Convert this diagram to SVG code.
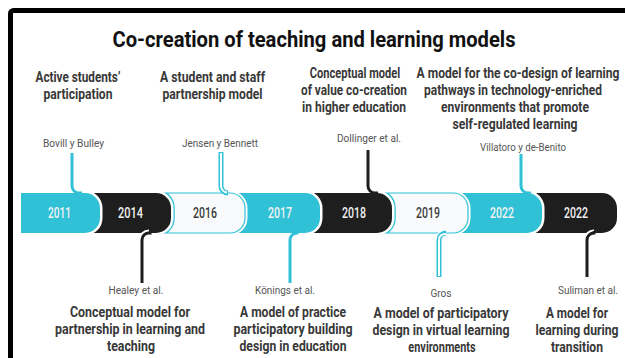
<svg xmlns="http://www.w3.org/2000/svg" width="625" height="358" viewBox="0 0 625 358">
<style>
.t{font-family:"Roboto","Liberation Sans",sans-serif;font-weight:700;fill:#383838;text-anchor:middle;font-size:15px}
.ttl{font-size:22px;fill:#111}
.au{font-family:"Roboto","Liberation Sans",sans-serif;font-size:10px;fill:#555;text-anchor:middle}
.yr{font-family:"Roboto","Liberation Sans",sans-serif;font-size:14px;font-weight:500;text-anchor:middle}
.yw{fill:#f2f2f2}
.yd{fill:#3a3a3a}
.cy{fill:#31c1d6}
.bk{fill:#1e1e1e}
.lt{fill:#f8fafc}
.gap{stroke:#fff;stroke-width:5;paint-order:stroke}
.c{fill:none;stroke-linecap:butt}
</style>
<defs>
<path id="s2016" d="M151,193 H230 A15,15 0 0 1 245,208 V218 A15,15 0 0 1 230,233 H151 Z"/>
<path id="s2019" d="M372,193 H453 A15,15 0 0 1 468,208 V218 A15,15 0 0 1 453,233 H372 Z"/>
<clipPath id="k2016"><use href="#s2016"/></clipPath>
<clipPath id="k2019"><use href="#s2019"/></clipPath>
</defs>
<rect x="10.5" y="10.5" width="700" height="420" rx="3" fill="none" stroke="#000" stroke-width="5"/>
<text class="t ttl" transform="translate(314 47) scale(.86 1)" x="0" y="0" textLength="468.6" lengthAdjust="spacingAndGlyphs">Co-creation of teaching and learning models</text>

<g id="timeline">
<g id="seg-2022b"><path class="bk gap" d="M522,193 H602 A15,15 0 0 1 617,208 V218 A15,15 0 0 1 602,233 H522 Z"/><text class="yr yw" transform="translate(576 218) scale(.75 1)" x="0" y="0" textLength="32" lengthAdjust="spacingAndGlyphs">2022</text></g>
<g id="seg-2022a"><path class="cy gap" d="M448,193 H527 A15,15 0 0 1 542,208 V218 A15,15 0 0 1 527,233 H448 Z"/><text class="yr yw" transform="translate(502 218) scale(.75 1)" x="0" y="0" textLength="32" lengthAdjust="spacingAndGlyphs">2022</text></g>
<g id="seg-2019"><use href="#s2019" class="lt gap"/><use href="#s2019" fill="none" stroke="#31c1d6" stroke-width="1.2"/><text class="yr yd" transform="translate(428 218) scale(.75 1)" x="0" y="0" textLength="32" lengthAdjust="spacingAndGlyphs">2019</text></g>
<g id="seg-2018"><path clip-path="url(#k2019)" fill="none" stroke="#31c1d6" stroke-width="7.5" d="M300,193 H377 A15,15 0 0 1 392,208 V218 A15,15 0 0 1 377,233 H300 Z"/><path class="bk gap" d="M300,193 H377 A15,15 0 0 1 392,208 V218 A15,15 0 0 1 377,233 H300 Z"/><text class="yr yw" transform="translate(354 218) scale(.75 1)" x="0" y="0" textLength="32" lengthAdjust="spacingAndGlyphs">2018</text></g>
<g id="seg-2017"><path class="cy gap" d="M225,193 H305 A15,15 0 0 1 320,208 V218 A15,15 0 0 1 305,233 H225 Z"/><text class="yr yw" transform="translate(280 218) scale(.75 1)" x="0" y="0" textLength="32" lengthAdjust="spacingAndGlyphs">2017</text></g>
<g id="seg-2016"><use href="#s2016" class="lt gap"/><use href="#s2016" fill="none" stroke="#31c1d6" stroke-width="1.2"/><text class="yr yd" transform="translate(205 218) scale(.75 1)" x="0" y="0" textLength="32" lengthAdjust="spacingAndGlyphs">2016</text></g>
<g id="seg-2014"><path clip-path="url(#k2016)" fill="none" stroke="#31c1d6" stroke-width="7.5" d="M80,193 H156 A15,15 0 0 1 171,208 V218 A15,15 0 0 1 156,233 H80 Z"/><path class="bk gap" d="M80,193 H156 A15,15 0 0 1 171,208 V218 A15,15 0 0 1 156,233 H80 Z"/><text class="yr yw" transform="translate(130.5 218) scale(.75 1)" x="0" y="0" textLength="33.3" lengthAdjust="spacingAndGlyphs">2014</text></g>
<g id="seg-2011"><path class="cy gap" d="M21,193 H85 A15,15 0 0 1 100,208 V218 A15,15 0 0 1 85,233 H21 Z"/><text class="yr yw" transform="translate(59.5 218) scale(.75 1)" x="0" y="0" textLength="30.7" lengthAdjust="spacingAndGlyphs">2011</text></g>
</g>

<g id="connectors">
<path class="c" stroke="#31c1d6" stroke-width="3" d="M72,153 V186 A7,7 0 0 0 79,193 H82"/>
<path class="c" stroke="#31c1d6" stroke-width="5" d="M221,152 V186 A7,7 0 0 0 228,193"/>
<path class="c" stroke="#fff" stroke-width="2" d="M221,153 V186 A7,7 0 0 0 227,192.5"/>
<path class="c" stroke="#1e1e1e" stroke-width="3" d="M368,150 V186 A7,7 0 0 0 375,193 H378"/>
<path class="c" stroke="#31c1d6" stroke-width="3" d="M521,154 V186 A7,7 0 0 0 528,193 H531"/>
<path class="c" stroke="#fff" stroke-width="7" d="M149,233 A7,7 0 0 0 142,240 V246"/>
<path class="c" stroke="#1e1e1e" stroke-width="3" d="M150,231 V233 A7,7 0 0 0 142,240 V283"/>
<path class="c" stroke="#31c1d6" stroke-width="3" d="M297,231 V233 A7,7 0 0 0 290,240 V283"/>
<path class="c" stroke="#fff" stroke-width="7" d="M446,233 A7,7 0 0 0 439,240 V246"/>
<path class="c" stroke="#31c1d6" stroke-width="5" d="M446,233 A7,7 0 0 0 439,240 V277"/>
<path class="c" stroke="#fff" stroke-width="2" d="M446,234 A6,6 0 0 0 439,240 V276"/>
<path class="c" stroke="#fff" stroke-width="7" d="M594,233 A7,7 0 0 0 587,240 V246"/>
<path class="c" stroke="#1e1e1e" stroke-width="3" d="M594,231 V233 A7,7 0 0 0 587,240 V277"/>
</g>

<g id="n2011">
<text class="t" transform="translate(78 82) scale(.74 1)" x="0" y="0" textLength="114.9" lengthAdjust="spacingAndGlyphs">Active students’</text>
<text class="t" transform="translate(78 99) scale(.74 1)" x="0" y="0" textLength="93.2" lengthAdjust="spacingAndGlyphs">participation</text>
<text class="au" x="73.5" y="147" textLength="61" lengthAdjust="spacingAndGlyphs">Bovill y Bulley</text>
</g>
<g id="n2016">
<text class="t" transform="translate(212.5 82) scale(.74 1)" x="0" y="0" textLength="141.9" lengthAdjust="spacingAndGlyphs">A student and staff</text>
<text class="t" transform="translate(212.5 99) scale(.74 1)" x="0" y="0" textLength="135.1" lengthAdjust="spacingAndGlyphs">partnership model</text>
<text class="au" x="220" y="147" textLength="76" lengthAdjust="spacingAndGlyphs">Jensen y Bennett</text>
</g>
<g id="n2018">
<text class="t" transform="translate(355 78) scale(.74 1)" x="0" y="0" textLength="122" lengthAdjust="spacingAndGlyphs">Conceptual model</text>
<text class="t" transform="translate(354 95) scale(.74 1)" x="0" y="0" textLength="143.2" lengthAdjust="spacingAndGlyphs">of value co-creation</text>
<text class="t" transform="translate(354 112) scale(.74 1)" x="0" y="0" textLength="140.5" lengthAdjust="spacingAndGlyphs">in higher education</text>
<text class="au" x="369" y="142" textLength="64" lengthAdjust="spacingAndGlyphs">Dollinger et al.</text>
</g>
<g id="n2022a">
<text class="t" transform="translate(518 78) scale(.74 1)" x="0" y="0" textLength="274.3" lengthAdjust="spacingAndGlyphs">A model for the co-design of learning</text>
<text class="t" transform="translate(513 95) scale(.74 1)" x="0" y="0" textLength="240.5" lengthAdjust="spacingAndGlyphs">pathways in technology-enriched</text>
<text class="t" transform="translate(515 112) scale(.74 1)" x="0" y="0" textLength="200" lengthAdjust="spacingAndGlyphs">environments that promote</text>
<text class="t" transform="translate(515 129) scale(.74 1)" x="0" y="0" textLength="168.9" lengthAdjust="spacingAndGlyphs">self-regulated learning</text>
<text class="au" x="523" y="151" textLength="86" lengthAdjust="spacingAndGlyphs">Villatoro y de-Benito</text>
</g>
<g id="n2014">
<text class="au" x="136" y="294" textLength="55" lengthAdjust="spacingAndGlyphs">Healey et al.</text>
<text class="t" transform="translate(130 317) scale(.74 1)" x="0" y="0" textLength="162.2" lengthAdjust="spacingAndGlyphs">Conceptual model for</text>
<text class="t" transform="translate(130 334) scale(.74 1)" x="0" y="0" textLength="202.7" lengthAdjust="spacingAndGlyphs">partnership in learning and</text>
<text class="t" transform="translate(131 351) scale(.74 1)" x="0" y="0" textLength="64.9" lengthAdjust="spacingAndGlyphs">teaching</text>
</g>
<g id="n2017">
<text class="au" x="285" y="294" textLength="60" lengthAdjust="spacingAndGlyphs">Könings et al.</text>
<text class="t" transform="translate(293 317) scale(.74 1)" x="0" y="0" textLength="143.2" lengthAdjust="spacingAndGlyphs">A model of practice</text>
<text class="t" transform="translate(293 334) scale(.74 1)" x="0" y="0" textLength="160.8" lengthAdjust="spacingAndGlyphs">participatory building</text>
<text class="t" transform="translate(293 351) scale(.74 1)" x="0" y="0" textLength="144.6" lengthAdjust="spacingAndGlyphs">design in education</text>
</g>
<g id="n2019">
<text class="au" x="441" y="297" textLength="21" lengthAdjust="spacingAndGlyphs">Gros</text>
<text class="t" transform="translate(441 318) scale(.74 1)" x="0" y="0" textLength="182.4" lengthAdjust="spacingAndGlyphs">A model of participatory</text>
<text class="t" transform="translate(441 335) scale(.74 1)" x="0" y="0" textLength="185.1" lengthAdjust="spacingAndGlyphs">design in virtual learning</text>
<text class="t" transform="translate(442 352) scale(.74 1)" x="0" y="0" textLength="91" lengthAdjust="spacingAndGlyphs">environments</text>
</g>
<g id="n2022b">
<text class="au" x="588" y="294" textLength="60" lengthAdjust="spacingAndGlyphs">Suliman et al.</text>
<text class="t" transform="translate(577 318) scale(.74 1)" x="0" y="0" textLength="83.8" lengthAdjust="spacingAndGlyphs">A model for</text>
<text class="t" transform="translate(577 335) scale(.74 1)" x="0" y="0" textLength="112.2" lengthAdjust="spacingAndGlyphs">learning during</text>
<text class="t" transform="translate(577 352) scale(.74 1)" x="0" y="0" textLength="70.3" lengthAdjust="spacingAndGlyphs">transition</text>
</g>
</svg>
